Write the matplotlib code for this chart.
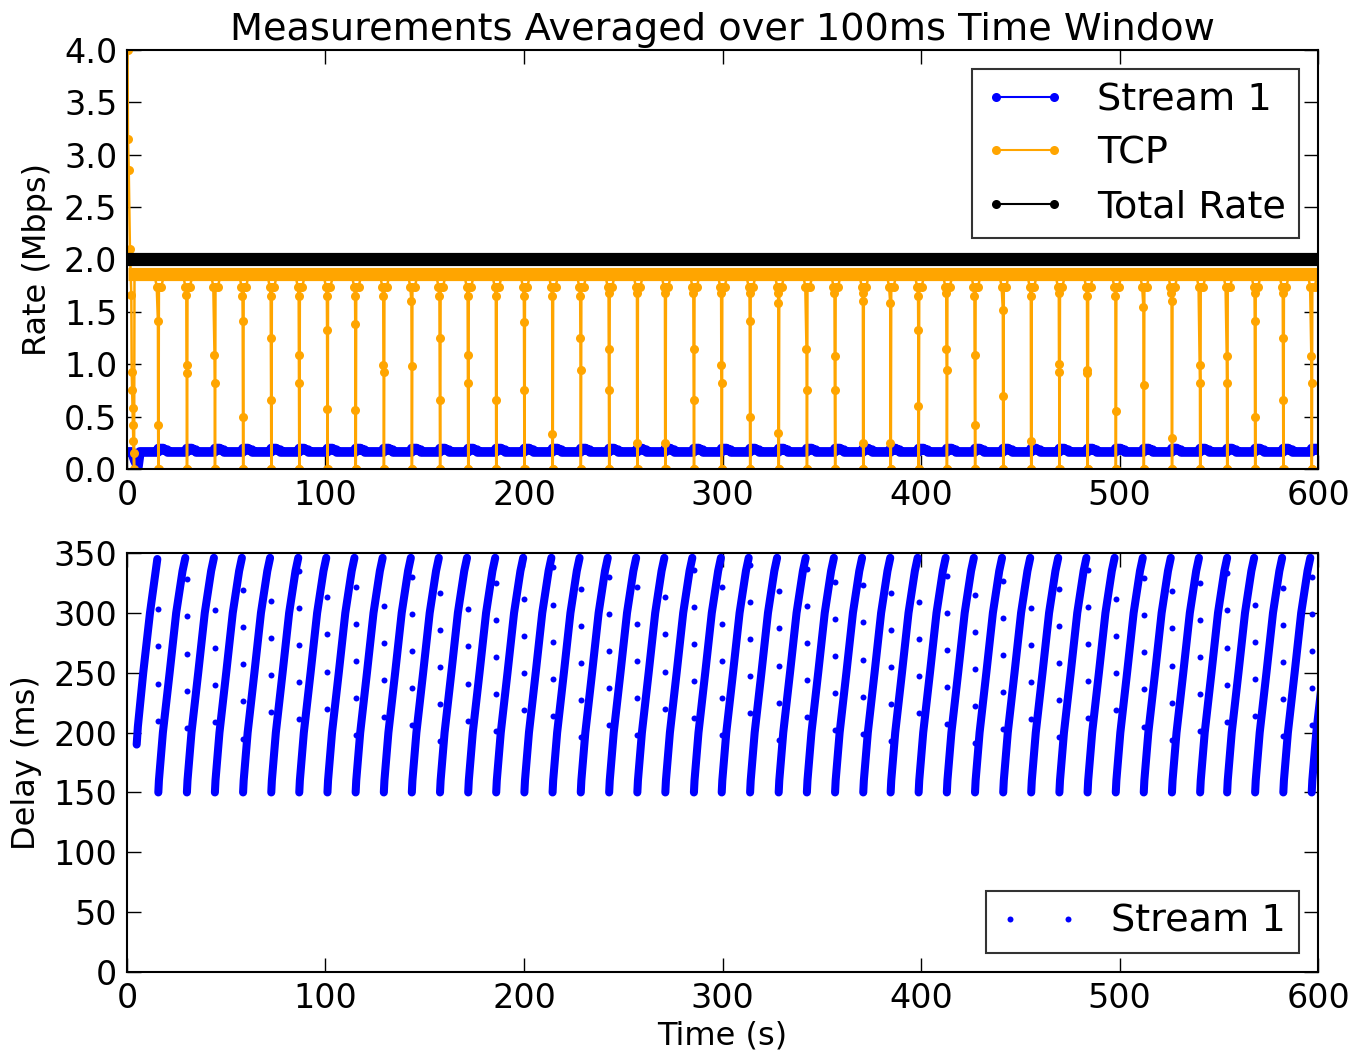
import numpy as np
import matplotlib
matplotlib.use("Agg")
import matplotlib.pyplot as plt
from matplotlib.lines import Line2D

# times (s) where TCP backs off, read from the vertical orange drops
drop_times = [15.8, 30.2, 44.3, 58.5, 72.7, 86.8, 101.0, 115.2, 129.4, 143.5,
              157.7, 171.9, 186.0, 200.2, 214.4, 228.6, 242.9, 257.1, 271.2, 285.6,
              299.6, 313.9, 328.3, 342.5, 356.7, 370.9, 384.7, 398.8, 413.0, 427.2,
              441.4, 455.5, 469.7, 483.9, 498.1, 512.2, 526.4, 540.6, 554.2, 568.3,
              582.5, 596.8]

# TCP rate samples (Mbps) caught on the way down at each drop
tcp_dips = [[1.41, 0.42], [1.66, 0.99, 0.92], [1.09, 0.82], [1.65, 1.41, 0.50],
            [1.65, 1.25, 0.66], [1.65, 1.09, 0.82], [1.65, 1.33, 0.57], [1.65, 1.38, 0.56],
            [1.65, 0.99, 0.93], [1.60, 0.98], [1.65, 1.25, 0.66], [1.65, 1.09, 0.82],
            [1.65, 0.66], [1.65, 1.40, 0.75], [1.65, 0.33], [1.65, 1.25, 0.95],
            [1.68, 1.15, 0.75], [1.68, 0.25], [1.68, 0.25], [1.68, 1.15, 0.66],
            [1.68, 0.99, 0.82], [1.68, 1.41, 0.50], [1.68, 1.58, 0.34], [1.15, 0.75],
            [1.68, 1.08, 0.75], [1.68, 1.60, 0.25], [1.58, 0.25], [1.65, 1.33, 0.60],
            [1.68, 1.15, 0.95], [1.65, 1.09, 0.42], [1.52, 0.70], [1.65, 0.27],
            [1.68, 1.00, 0.93], [1.65, 0.95, 0.92], [1.65, 0.55], [1.55, 0.80],
            [1.68, 1.60, 0.30], [0.99, 0.82], [1.08, 0.82], [1.68, 1.41, 0.50],
            [1.68, 1.25, 0.66], [1.08, 0.82]]

# start-up burst of TCP
tcp_start_t = [0.3, 0.5, 0.9, 1.5, 2.2, 2.4, 2.6, 2.8, 3.0, 3.2, 3.4, 3.6, 3.8]
tcp_start_v = [4.0, 3.15, 2.85, 2.1, 1.66, 0.93, 0.75, 0.58, 0.42, 0.27, 0.15, 0.0, 1.87]

# shape of TCP rate around each drop (offset s, Mbps)
tcp_pre_dt = [-2.0, -0.8]
tcp_pre_v = [1.865, 1.74]
tcp_post_dt = [0.0, 0.1, 0.3, 1.5, 3.0]
tcp_post_v = [0.0, 0.0, 1.74, 1.74, 1.865]

tcp_level = 1.865
total_rate = 2.0

stream_start_t = [0.5, 2.5, 4.0, 5.5, 6.5]
stream_start_v = [0.163, 0.163, 0.08, 0.02, 0.163]
stream_level = 0.163
stream_bump_dt = [-0.2, 0.0, 2.5, 2.7, 4.5, 4.7]
stream_bump_v = [0.163, 0.195, 0.195, 0.18, 0.18, 0.163]

# delay ramp of the first (partial) cycle and of every later cycle
first_ramp_t = [4.9, 5.5, 8.2, 11.6, 15.3]
first_ramp_d = [190, 205, 250, 300, 345]
ramp_dt = [0.0, 0.3, 2.3, 5.7, 9.0, 12.2, 13.6]
ramp_d = [150, 160, 200, 250, 300, 335, 346]

# isolated delay samples while the queue drains at each drop
fall_start = [303, 328, 302, 319, 310, 335, 313, 322, 306, 330,
              317, 303, 325, 312, 338, 320, 330, 322, 313, 336,
              322, 340, 318, 337, 326, 323, 317, 309, 331, 315,
              327, 304, 320, 336, 312, 329, 318, 325, 333, 307,
              321, 330]
fall_step = [0, -31, -62, -93, -124]

# ---- build series ----
tcp_t, tcp_v = list(tcp_start_t), list(tcp_start_v)
for d, dips in zip(drop_times, tcp_dips):
    tcp_t += [d + dt for dt in tcp_pre_dt]
    tcp_v += tcp_pre_v
    n = len(dips)
    tcp_t += [d - 0.1 * (n - i) for i in range(n)]
    tcp_v += dips
    tcp_t += [d + dt for dt in tcp_post_dt]
    tcp_v += tcp_post_v
tcp_t.append(600)
tcp_v.append(tcp_level)

st_t, st_v = list(stream_start_t), list(stream_start_v)
for d in drop_times:
    st_t += [d + dt for dt in stream_bump_dt]
    st_v += stream_bump_v
st_t.append(600)
st_v.append(stream_level)

ramp_t, ramp_v = list(first_ramp_t), list(first_ramp_d)
fall_t, fall_v = [], []
for d, f0 in zip(drop_times, fall_start):
    ramp_t += [np.nan] + [d + dt for dt in ramp_dt]
    ramp_v += [np.nan] + ramp_d
    for s in fall_step:
        if f0 + s > 190:
            fall_t.append(d)
            fall_v.append(f0 + s)

plt.rcParams['font.family'] = 'DejaVu Sans'
plt.rcParams['font.size'] = 24

fig = plt.figure(figsize=(13.52, 10.54), dpi=100)
ax1 = fig.add_axes([0.0939, 0.555, 0.8810, 0.3976])
ax2 = fig.add_axes([0.0939, 0.0778, 0.8810, 0.3975])

leg_kw = dict(numpoints=2, fancybox=False, fontsize=27.5, borderaxespad=0.5,
              borderpad=0.34, handlelength=2.12, handletextpad=0.82,
              labelspacing=0.46)

ax1.plot(st_t, st_v, color='blue', lw=7, solid_capstyle='butt')
ax1.plot([0.5, 600], [tcp_level, tcp_level], color='orange', lw=9.5, solid_capstyle='butt')
ax1.plot(tcp_t, tcp_v, color='orange', lw=1.8, marker='o', ms=6.5, mew=0)
ax1.plot([0, 600], [total_rate, total_rate], color='black', lw=9.5, solid_capstyle='butt')

handles = [Line2D([], [], color='blue', marker='o', ms=6.5, mew=0, lw=1.5),
           Line2D([], [], color='orange', marker='o', ms=6.5, mew=0, lw=1.5),
           Line2D([], [], color='black', marker='o', ms=6.5, mew=0, lw=1.5)]
leg = ax1.legend(handles, ['Stream 1', 'TCP', 'Total Rate'], loc='upper right', **leg_kw)
leg.get_frame().set_edgecolor('black')
leg.get_frame().set_linewidth(1.5)

ax1.set_xlim(0, 600)
ax1.set_ylim(0, 4.0)
ax1.set_yticks(np.arange(0, 4.01, 0.5))
ax1.set_yticklabels(['%.1f' % v for v in np.arange(0, 4.01, 0.5)])
ax1.set_ylabel('Rate (Mbps)', fontsize=23, labelpad=8)
ax1.set_title('Measurements Averaged over 100ms Time Window', fontsize=27.5, pad=7)

ax2.plot(ramp_t, ramp_v, color='blue', lw=5.8, solid_capstyle='round')
ax2.plot(fall_t, fall_v, color='blue', ls='none', marker='o', ms=4.3, mew=0,
         label='Stream 1')
leg2 = ax2.legend(loc='lower right', **leg_kw)
leg2.get_frame().set_edgecolor('black')
leg2.get_frame().set_linewidth(1.5)

ax2.set_xlim(0, 600)
ax2.set_ylim(0, 350)
ax2.set_yticks(range(0, 351, 50))
ax2.set_xlabel('Time (s)', fontsize=23)
ax2.set_ylabel('Delay (ms)', fontsize=23, labelpad=8)

for ax in (ax1, ax2):
    ax.set_xticks(range(0, 601, 100))
    ax.tick_params(direction='in', top=True, right=True, length=10, width=1,
                   labelsize=24, pad=7)
    for sp in ax.spines.values():
        sp.set_linewidth(1.5)

fig.savefig('out.png', dpi=100, facecolor='white')
